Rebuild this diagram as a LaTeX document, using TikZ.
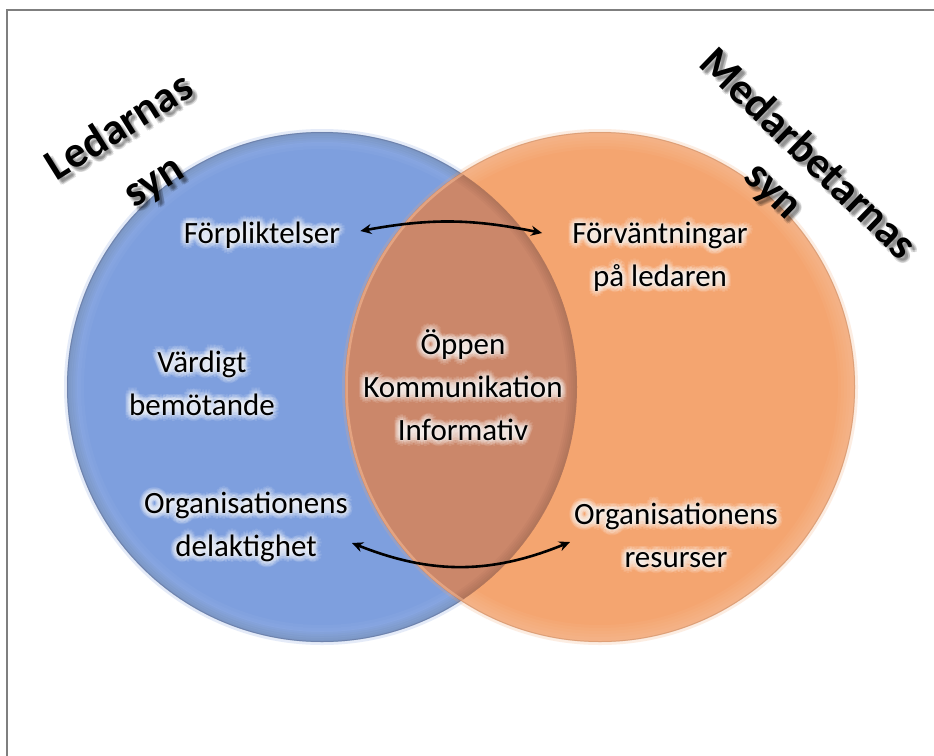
\documentclass[tikz,border=0pt]{standalone}
\usepackage{fontspec}
\setmainfont{Carlito}
\usetikzlibrary{arrows.meta}

\definecolor{leaderblue}{HTML}{7E9FDE}
\definecolor{staffpeach}{HTML}{F4A570}
\definecolor{sharedbrown}{HTML}{CB876A}
\definecolor{framegray}{HTML}{7F7F7F}

% label with a soft white halo that follows the glyphs
\newcommand{\halolabel}[4]{%
  \foreach \ang in {0,30,...,330}{%
    \foreach \rad in {1.5,3,4.5,6}{%
      \node[#3, text=white, opacity=0.11] at ([shift={(\ang:\rad pt)}]#2) {#4};%
    }%
  }%
  \node[#3] (#1) at (#2) {#4};%
}

% heading with a blurred drop shadow below right
\newcommand{\shadowtitle}[4]{%
  \foreach \ang in {45,135,225,315}{%
    \node[#3, text=black, opacity=0.13] at ([shift={(4pt,-4pt)},shift={(\ang:1.4pt)}]#2) {#4};%
  }%
  \node[#3] (#1) at (#2) {#4};%
}

\begin{document}
\begin{tikzpicture}[x=1pt,y=-1pt,
  lbl/.style={font=\fontsize{31}{43}\selectfont, align=center, inner sep=0pt, text=black},
  ttl/.style={align=center, inner sep=0pt, text=black},
  conn/.style={{Stealth[length=11pt,width=10pt]}-{Stealth[length=11pt,width=10pt]}, line width=2.6pt, black}
]
\useasboundingbox (0,0) rectangle (934,755);
\fill[white] (-10,-10) rectangle (944,765);

% page frame
\draw[framegray, line width=1.2pt] (7,765) -- (7,10) -- (944,10);

% left circle with a soft bevelled rim
\fill[leaderblue] (322,387) circle[radius=255pt];
\foreach \w in {2,5,8,11,14,17}{
  \draw[white, opacity=0.03, line width=\w pt] (322,387) circle[radius=255pt-\w pt/2];
}
\draw[leaderblue!55!black, opacity=0.25, line width=1.2pt] (322,387) circle[radius=254.6pt];
\draw[leaderblue, opacity=0.20, line width=3pt] (322,387) circle[radius=256.5pt];

% right circle with a soft bevelled rim
\fill[staffpeach] (600,387) circle[radius=255pt];
\foreach \w in {2,5,8,11,14,17}{
  \draw[white, opacity=0.035, line width=\w pt] (600,387) circle[radius=255pt-\w pt/2];
}
\draw[staffpeach!65!black, opacity=0.25, line width=1.2pt] (600,387) circle[radius=254.6pt];
\draw[staffpeach, opacity=0.20, line width=3pt] (600,387) circle[radius=256.5pt];

% common part of both circles
\begin{scope}
  \clip (322,387) circle[radius=255pt];
  \fill[sharedbrown] (600,387) circle[radius=255pt];
  \foreach \w in {4,8,12,16,20}{
    \draw[black, opacity=0.025, line width=\w pt] (322,387) circle[radius=255pt];
  }
  \draw[staffpeach!75!white, opacity=0.55, line width=2.5pt] (600,387) circle[radius=253.5pt];
\end{scope}

% headings
\shadowtitle{ledare}{137,155}{ttl, rotate=32, font=\fontsize{44}{64}\bfseries\selectfont}{Ledarnas\\syn}
\shadowtitle{medarb}{790,173}{ttl, rotate=-44, font=\fontsize{44}{50}\bfseries\selectfont}{Medarbetarnas\\syn}

% labels
\halolabel{forp}{262,235}{lbl}{Förpliktelser}
\halolabel{forv}{660,257}{lbl}{Förväntningar\\på ledaren}
\halolabel{vard}{202,383}{lbl}{Värdigt\\bemötande}
\halolabel{oppen}{463,385}{lbl}{Öppen\\Kommunikation\\Informativ}
\halolabel{orgd}{246,527}{lbl}{Organisationens\\delaktighet}
\halolabel{orgr}{676,535}{lbl}{Organisationens\\resurser}

% two-way relations
\draw[conn] ([xshift=20pt,yshift=4pt]forp.east) to[bend left=11] ([xshift=-30pt,yshift=24pt]forv.west);
\draw[conn] ([xshift=4pt,yshift=-16pt]orgd.east) to[bend right=22] ([xshift=-4pt,yshift=-7pt]orgr.west);
\end{tikzpicture}
\end{document}
